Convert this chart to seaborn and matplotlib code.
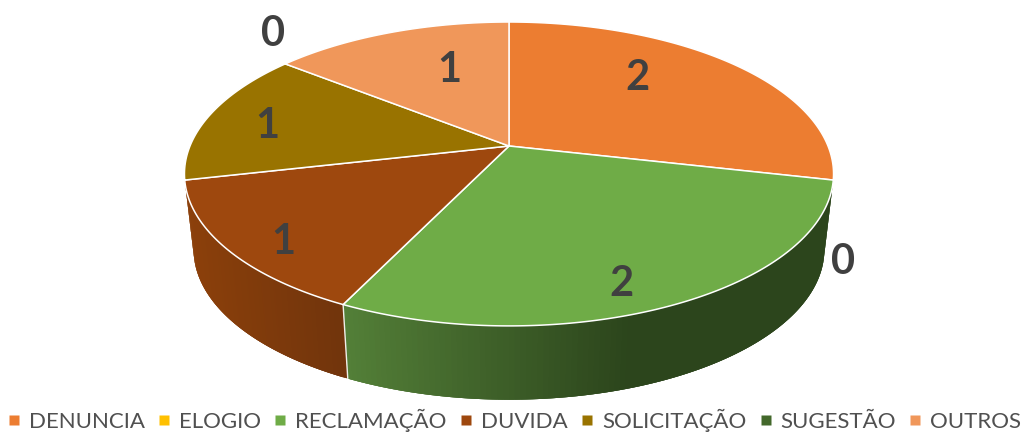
import numpy as np
import matplotlib
matplotlib.use("Agg")
import matplotlib.pyplot as plt
from matplotlib.collections import PolyCollection
from matplotlib.lines import Line2D
from matplotlib.patches import Polygon
import seaborn as sns

categories = ["DENUNCIA", "ELOGIO", "RECLAMAÇÃO", "DUVIDA", "SOLICITAÇÃO", "SUGESTÃO", "OUTROS"]
values = [2, 0, 2, 1, 1, 0, 1]
colors = ["#EC7D31", "#FFC000", "#6FAC47", "#9E480E", "#997300", "#43682B", "#F0975A"]
label_pos = [(637, 75), (843, 259), (621, 280), (283, 238), (267, 122), (273, 30), (449, 66)]
wall_grad = {2: ("#558239", "#2C451C", 345, 640), 3: ("#8C400B", "#72350C", 190, 345)}

sns.set_theme(style="white")
plt.rcParams["font.family"] = ["Lato", "DejaVu Sans"]
palette = sns.color_palette(colors)

fig = plt.figure(figsize=(10.23, 4.34), dpi=100)
ax = fig.add_axes([0, 0, 1, 1])
ax.set_xlim(0, 1023)
ax.set_ylim(434, 0)
ax.axis("off")

K = 0.184


def project(theta, top=True):
    x, y = np.sin(theta), np.cos(theta)
    w = 1 + K * y
    if top:
        return 509 + 319 * x / w, 146 - 146.8 * y / w
    return 509 + 310 * x / w, 222 - 145 * y / w


edges = np.concatenate([[0], np.cumsum(values)]) / np.sum(values) * 2 * np.pi

# side walls, as overlapping strips painted one over the other so no seams show
for i, (start, end) in enumerate(zip(edges[:-1], edges[1:])):
    if i not in wall_grad or end <= start:
        continue
    c0, c1, x0, x1 = wall_grad[i]
    c0, c1 = np.array(matplotlib.colors.to_rgb(c0)), np.array(matplotlib.colors.to_rgb(c1))
    th = np.linspace(start, end, 121)
    tx, ty = project(th, True)
    bx, by = project(th, False)
    quads, cols = [], []
    for j in range(len(th) - 1):
        k = np.arange(j, min(j + 4, len(th)))
        poly = np.r_[np.column_stack([tx[k], ty[k]]), np.column_stack([bx[k], by[k]])[::-1]]
        quads.append(poly)
        f = np.clip(((tx[j] + bx[j]) / 2 - x0) / (x1 - x0), 0, 1)
        cols.append(c0 + (c1 - c0) * f)
    ax.add_collection(PolyCollection(quads[::-1], facecolors=cols[::-1], edgecolors="none", linewidths=0, zorder=1))

# seam between walls
tx, ty = project(edges[3], True)
bx, by = project(edges[3], False)
ax.plot([tx, bx], [ty, by], color="white", lw=1.0, alpha=0.9, zorder=2)

# top disc
for i, (start, end) in enumerate(zip(edges[:-1], edges[1:])):
    if end <= start:
        continue
    th = np.linspace(start, end, 200)
    px, py = project(th, True)
    pts = np.column_stack([np.r_[509, px], np.r_[146, py]])
    ax.add_patch(Polygon(pts, closed=True, facecolor=palette[i], edgecolor="white", lw=1.1, joinstyle="round", zorder=3))

# data labels
for v, (x, y) in zip(values, label_pos):
    ax.text(x, y, str(v), ha="center", va="center_baseline", fontsize=30, fontweight="bold", color="#404040", zorder=5)

# legend
handles = [Line2D([], [], ls="", marker="s", ms=6.6, mfc=c, mec="none") for c in palette]
leg = ax.legend(handles, categories, loc="lower center", bbox_to_anchor=(0.503, 0.004), ncol=7, frameon=False,
                fontsize=16, labelcolor="#505050", handlelength=0.55, handletextpad=0.4, columnspacing=0.59,
                borderpad=0, borderaxespad=0)

fig.savefig("out.png", dpi=100)
